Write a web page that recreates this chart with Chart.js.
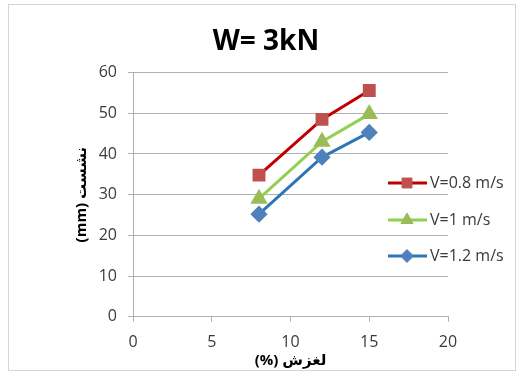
<!DOCTYPE html>
<html>
<head>
<meta charset="utf-8">
<script src="https://cdn.jsdelivr.net/npm/chart.js@4/dist/chart.umd.min.js"></script>
<style>
  html, body { margin: 0; padding: 0; background: #fff; }
  #wrap { position: relative; width: 518px; height: 374px; }
</style>
</head>
<body>
<div id="wrap"><canvas id="chart" width="518" height="374"></canvas></div>
<script>
// slip (%) on x, settlement (mm) on y
const slip = [8, 12, 15];
const seriesNames = ['V=0.8 m/s', 'V=1 m/s', 'V=1.2 m/s'];
const v08 = [34.8, 48.5, 55.6];
const v1 = [29, 43, 49.8];
const v12 = [25.2, 39.2, 45.3];
const xTicks = [0, 5, 10, 15, 20];
const yTicks = [0, 10, 20, 30, 40, 50, 60];

const FONT = "'Open Sans', 'DejaVu Sans', sans-serif";

const toPoints = (vals) => slip.map((x, i) => ({ x: x, y: vals[i] }));

const styles = [
  { line: '#c00000', marker: '#c0504d', pointStyle: 'rect', radius: 7 },
  { line: '#92d050', marker: '#9bbb59', pointStyle: 'triangle', radius: 7 },
  { line: '#2e75b6', marker: '#4f81bd', pointStyle: 'rectRot', radius: 6.5 },
];

const datasets = [v08, v1, v12].map((vals, i) => ({
  label: seriesNames[i],
  data: toPoints(vals),
  borderColor: styles[i].line,
  backgroundColor: styles[i].marker,
  pointBackgroundColor: styles[i].marker,
  pointBorderColor: styles[i].marker,
  pointStyle: styles[i].pointStyle,
  pointRadius: styles[i].radius,
  borderWidth: 3,
  tension: 0,
}));

// frame round the whole chart, like the spreadsheet chart area
const framePlugin = {
  id: 'frame',
  beforeDraw(chart) {
    const ctx = chart.ctx;
    ctx.save();
    ctx.fillStyle = '#fff';
    ctx.fillRect(0, 0, chart.width, chart.height);
    ctx.strokeStyle = '#d4d4d4';
    ctx.lineWidth = 1;
    ctx.strokeRect(8.5, 4.5, 507, 366);
    ctx.restore();
  },
};

// legend sits on top of the plot area at the right
const legendPlugin = {
  id: 'sideLegend',
  afterDatasetsDraw(chart) {
    const ctx = chart.ctx;
    const rows = [183, 220, 256];
    ctx.save();
    chart.data.datasets.forEach((ds, i) => {
      const y = rows[i];
      ctx.strokeStyle = ds.borderColor;
      ctx.lineWidth = 3;
      ctx.beginPath();
      ctx.moveTo(388, y);
      ctx.lineTo(427, y);
      ctx.stroke();
      ctx.fillStyle = ds.pointBackgroundColor;
      ctx.strokeStyle = ds.pointBorderColor;
      ctx.lineWidth = 1;
      Chart.helpers.drawPoint(ctx, { pointStyle: ds.pointStyle, radius: ds.pointRadius, rotation: 0, borderWidth: 1 }, 407, y);
      ctx.fillStyle = '#3a3a3a';
      ctx.font = '16px ' + FONT;
      ctx.textAlign = 'left';
      ctx.textBaseline = 'middle';
      ctx.fillText(ds.label, 430, y);
    });
    ctx.restore();
  },
};

new Chart(document.getElementById('chart'), {
  type: 'line',
  data: { datasets: datasets },
  plugins: [framePlugin, legendPlugin],
  options: {
    responsive: false,
    animation: false,
    layout: { padding: { left: 14, right: 0, top: 0, bottom: 0 } },
    plugins: {
      legend: { display: false },
      tooltip: { enabled: false },
      title: {
        display: true,
        text: 'W= 3kN',
        color: '#000',
        font: { family: FONT, size: 28, weight: 'bold' },
        padding: { top: 25, bottom: 14 },
      },
    },
    scales: {
      x: {
        type: 'linear',
        min: 0,
        max: 20,
        afterBuildTicks: (s) => { s.ticks = xTicks.map((v) => ({ value: v })); },
        afterFit: (s) => { s.height = 57.3; },
        grid: { drawOnChartArea: false, color: '#b0b0b0', tickLength: 5 },
        border: { color: '#b0b0b0' },
        ticks: { color: '#3a3a3a', font: { family: FONT, size: 16 }, padding: 11 },
        title: {
          display: true,
          text: '(%) لغزش',
          color: '#000',
          font: { family: FONT, size: 15, weight: 'bold' },
          padding: { top: 0, bottom: 4 },
        },
      },
      y: {
        min: 0,
        max: 60,
        afterBuildTicks: (s) => { s.ticks = yTicks.map((v) => ({ value: v })); },
        afterFit: (s) => { s.width = 119; },
        grid: { color: '#b0b0b0', tickLength: 5 },
        border: { color: '#b0b0b0' },
        ticks: { color: '#3a3a3a', font: { family: FONT, size: 16 }, padding: 11 },
        title: {
          display: true,
          text: '(mm) نشست',
          color: '#000',
          font: { family: FONT, size: 15, weight: 'bold' },
          padding: { top: 59, bottom: 0 },
        },
      },
      // empty space to the right of the plot, where the legend hangs
      side: {
        position: 'right',
        display: true,
        min: 0,
        max: 1,
        afterFit: (s) => { s.width = 70; },
        grid: { display: false },
        border: { display: false },
        ticks: { display: false },
      },
    },
  },
});
</script>
</body>
</html>
